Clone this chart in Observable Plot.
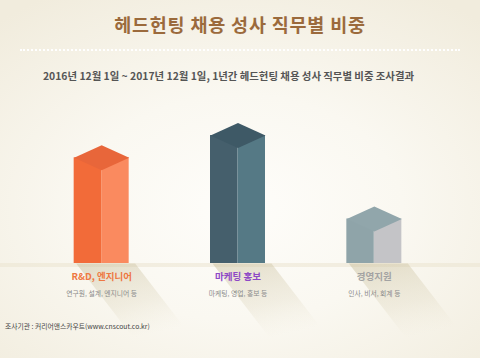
<!DOCTYPE html>
<html><head><meta charset="utf-8">
<script src="https://cdn.jsdelivr.net/npm/d3@7"></script>
<script src="https://cdn.jsdelivr.net/npm/@observablehq/plot@0.6"></script>
<style>
html,body{margin:0;padding:0;}
#wrap{position:relative;width:480px;height:358px;overflow:hidden;
 background:radial-gradient(ellipse 75% 70% at 50% 58%, #fefdfa 0%, #faf8f1 45%, #f1ecdd 100%);
 font-family:"Noto Sans CJK KR","Noto Sans",sans-serif;}
#title{position:absolute;top:10px;left:0;width:480px;text-align:center;font-size:18.5px;font-weight:bold;color:#9b6a3c;letter-spacing:0.8px;line-height:28px;}
#dots{position:absolute;top:49px;left:20px;width:440px;border-top:2px dotted #ffffff;}
#sub{position:absolute;top:68px;left:0;width:457px;text-align:center;font-size:10.4px;font-weight:bold;color:#555;line-height:16px;}
#chart{position:absolute;top:100px;left:0;}
#cap{position:absolute;top:320px;left:5px;font-size:6.8px;color:#444;line-height:12px;}
</style></head>
<body><div id="wrap">
<div id="title">헤드헌팅 채용 성사 직무별 비중</div>
<div id="dots"></div>
<div id="sub">2016년 12월 1일 ~ 2017년 12월 1일, 1년간 헤드헌팅 채용 성사 직무별 비중 조사결과</div>
<div id="chart"></div>
<div id="cap">조사기관 : 커리어앤스카우트(www.cnscout.co.kr)</div>
</div>
<script>
// data
const categories = ["R&D, 엔지니어", "마케팅 홍보", "경영지원"];
const details = ["연구원, 설계, 엔지니어 등", "마케팅, 영업, 홍보 등", "인사, 비서, 회계 등"];
const shares = [38, 46, 16];

// style
const leftFace = ["#f26b39", "#455f6c", "#8fa4a9"];
const rightFace = ["#fa8a5f", "#557985", "#c4c4c7"];
const topFace = ["#e8663a", "#3e5966", "#91a6ab"];
const labelColor = ["#ee7842", "#8e48c6", "#a3a3a3"];

const W = 480, H = 258, mL = 33, mR = 38, mB = 95, mT = 0;
const yMax = 58.6;
const pxX = (W - mL - mR) / 3;          // px per x unit
const pxY = (H - mT - mB) / yMax;       // px per y unit
const hw = 27.5 / pxX;                  // half bar width (units)
const cap = 12.5 / pxY;                 // isometric top offset (units)
const shDx = 60 / pxX, shDy = 78 / pxY; // shadow slant

const bars = categories.map((c, i) => ({i, cat: c, det: details[i], v: shares[i]}));

const marks = [];
// floor strip
marks.push(Plot.rect([0], {x1: () => -0.5 - mL / pxX, x2: () => 2.5 + mR / pxX, y1: () => 0, y2: () => -4 / pxY, fill: "#ebe4cf", fillOpacity: 0.55}));
bars.forEach(b => {
  const i = b.i;
  const sh = [
    {x: i - hw + 2 / pxX, y: 0},
    {x: i + hw + 6 / pxX, y: 0},
    {x: i + hw + 6 / pxX + shDx, y: -shDy},
    {x: i - hw + 2 / pxX + shDx, y: -shDy}
  ];
  marks.push(Plot.line(sh, {x: "x", y: "y", fill: "url(#shadowGrad)", stroke: "none", curve: "linear-closed"}));
});
bars.forEach(b => {
  const i = b.i;
  marks.push(Plot.rect([b], {x1: d => d.i - hw, x2: d => d.i, y1: () => 0, y2: d => d.v, fill: leftFace[i]}));
  marks.push(Plot.rect([b], {x1: d => d.i, x2: d => d.i + hw, y1: () => 0, y2: d => d.v, fill: rightFace[i]}));
  const top = [
    {x: i - hw, y: b.v},
    {x: i, y: b.v + cap},
    {x: i + hw, y: b.v},
    {x: i, y: b.v - cap}
  ];
  marks.push(Plot.line(top, {x: "x", y: "y", fill: topFace[i], stroke: "none", curve: "linear-closed"}));
  marks.push(Plot.text([b], {x: "i", y: () => 0, text: "cat", dy: 13, fill: labelColor[i], fontSize: 9.5, fontWeight: "bold"}));
  marks.push(Plot.text([b], {x: "i", y: () => 0, text: "det", dy: 30, fill: "#8a8a8a", fontSize: 6.8}));
});

const svg = Plot.plot({
  width: W, height: H,
  marginLeft: mL, marginRight: mR, marginTop: mT, marginBottom: mB,
  x: {domain: [-0.5, 2.5], axis: null},
  y: {domain: [0, yMax], axis: null},
  style: {background: "transparent", fontFamily: "'Noto Sans CJK KR', sans-serif", overflow: "visible"},
  marks
});
const ns = "http://www.w3.org/2000/svg";
const defs = document.createElementNS(ns, "defs");
defs.innerHTML = '<linearGradient id="shadowGrad" x1="0" y1="0" x2="0.35" y2="1">' +
  '<stop offset="0" stop-color="#c9bf9c" stop-opacity="0.5"/>' +
  '<stop offset="0.6" stop-color="#d6cdb0" stop-opacity="0.25"/>' +
  '<stop offset="1" stop-color="#e6dfc8" stop-opacity="0"/></linearGradient>';
svg.insertBefore(defs, svg.firstChild);
document.getElementById("chart").appendChild(svg);
</script>
</body></html>
